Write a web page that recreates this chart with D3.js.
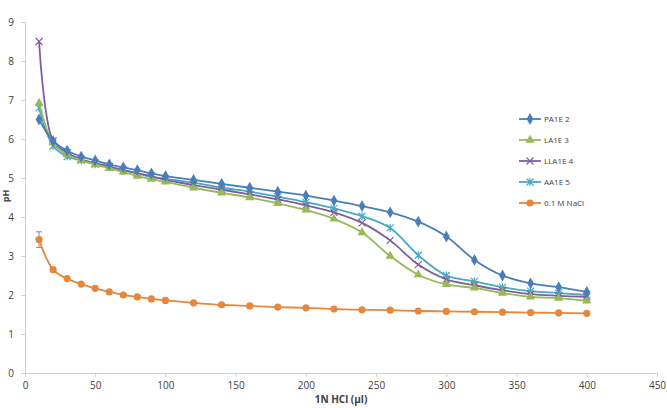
<!DOCTYPE html>
<html>
<head>
<meta charset="utf-8">
<script src="https://cdn.jsdelivr.net/npm/d3@7"></script>
<style>
  body { margin: 0; background: #fff; }
  svg text { font-family: "Open Sans", "Liberation Sans", sans-serif; fill: #404040; }
</style>
</head>
<body>
<script>
// x values (µl of 1N HCl)
var hclVol = [10, 20, 30, 40, 50, 60, 70, 80, 90, 100, 120, 140, 160, 180, 200, 220, 240, 260, 280, 300, 320, 340, 360, 380, 400];

// pH readings per sample
var pa1e2 = [6.5, 5.95, 5.7, 5.55, 5.45, 5.35, 5.27, 5.2, 5.12, 5.05, 4.95, 4.85, 4.75, 4.65, 4.55, 4.42, 4.28, 4.12, 3.88, 3.5, 2.9, 2.5, 2.3, 2.2, 2.08];
var la1e3 = [6.92, 5.9, 5.6, 5.45, 5.35, 5.25, 5.15, 5.05, 4.97, 4.9, 4.75, 4.62, 4.5, 4.35, 4.18, 3.95, 3.6, 3.0, 2.52, 2.27, 2.18, 2.05, 1.95, 1.92, 1.85];
var lla1e4 = [8.5, 5.95, 5.65, 5.48, 5.38, 5.3, 5.2, 5.12, 5.05, 4.95, 4.82, 4.7, 4.58, 4.45, 4.3, 4.12, 3.85, 3.4, 2.78, 2.4, 2.25, 2.12, 2.02, 1.98, 1.95];
var aa1e5 = [6.8, 5.82, 5.55, 5.45, 5.35, 5.28, 5.2, 5.12, 5.02, 4.98, 4.88, 4.75, 4.65, 4.52, 4.38, 4.22, 4.02, 3.72, 3.02, 2.5, 2.35, 2.2, 2.1, 2.05, 2.0];
var nacl = [3.42, 2.65, 2.42, 2.28, 2.17, 2.08, 2.0, 1.95, 1.9, 1.86, 1.8, 1.75, 1.72, 1.69, 1.67, 1.64, 1.62, 1.61, 1.59, 1.58, 1.57, 1.56, 1.55, 1.54, 1.53];
var naclErr = [0.2]; // only the first point shows an error bar

var seriesNames = ["PA1E 2", "LA1E 3", "LLA1E 4", "AA1E 5", "0.1 M NaCl"];
var xTicks = [0, 50, 100, 150, 200, 250, 300, 350, 400, 450];
var yTicks = [0, 1, 2, 3, 4, 5, 6, 7, 8, 9];

(function(){
    var width = 667, height = 408;
    var left = 25, right = 657, top = 22, bottom = 373;

    var svg = d3.select('body').append('svg')
        .attr('width', width)
        .attr('height', height);

    var x = d3.scaleLinear().domain([0, 450]).range([left, right]);
    var y = d3.scaleLinear().domain([0, 9]).range([bottom, top]);

    // axes
    var xAxis = svg.append('g')
        .attr('transform', 'translate(0,' + bottom + ')')
        .call(d3.axisBottom(x).tickValues(xTicks).tickSize(4).tickPadding(5));
    var yAxis = svg.append('g')
        .attr('transform', 'translate(' + left + ',0)')
        .call(d3.axisLeft(y).tickValues(yTicks).tickSize(4).tickPadding(7));
    [xAxis, yAxis].forEach(function(a){
        a.selectAll('path, line').attr('stroke', '#d0d0d0');
        a.selectAll('text').style('font-size', '10px').attr('fill', '#404040');
    });

    // axis titles
    svg.append('text')
        .attr('x', (left + right) / 2)
        .attr('y', 403)
        .attr('text-anchor', 'middle')
        .style('font-size', '10px')
        .style('font-weight', 'bold')
        .text('1N HCl (µl)');
    svg.append('text')
        .attr('transform', 'translate(9,196) rotate(-90)')
        .attr('text-anchor', 'middle')
        .style('font-size', '9px')
        .style('font-weight', 'bold')
        .text('pH');

    var series = [
        { name: seriesNames[0], vals: pa1e2, color: '#4a7ebb', marker: 'diamond' },
        { name: seriesNames[1], vals: la1e3, color: '#98b954', marker: 'triangle' },
        { name: seriesNames[2], vals: lla1e4, color: '#7d5fa0', marker: 'cross' },
        { name: seriesNames[3], vals: aa1e5, color: '#46aac4', marker: 'star' },
        { name: seriesNames[4], vals: nacl, color: '#e5873c', marker: 'circle' }
    ];

    var line = d3.line()
        .x(function(d){ return x(d[0]); })
        .y(function(d){ return y(d[1]); })
        .curve(d3.curveCatmullRom.alpha(0.5));

    // draws one marker at (cx, cy)
    function drawMarker(g, type, cx, cy, color) {
        if (type === 'diamond') {
            g.append('path').attr('d', d3.symbol(d3.symbolDiamond, 40)())
                .attr('transform', 'translate(' + cx + ',' + cy + ')').attr('fill', color);
        } else if (type === 'triangle') {
            g.append('path').attr('d', d3.symbol(d3.symbolTriangle, 36)())
                .attr('transform', 'translate(' + cx + ',' + cy + ')').attr('fill', color);
        } else if (type === 'circle') {
            g.append('circle').attr('cx', cx).attr('cy', cy).attr('r', 3.6).attr('fill', color);
        } else {
            var s = 3.5;
            var d = 'M' + (cx - s) + ',' + (cy - s) + 'L' + (cx + s) + ',' + (cy + s) +
                    'M' + (cx - s) + ',' + (cy + s) + 'L' + (cx + s) + ',' + (cy - s);
            if (type === 'star') d += 'M' + cx + ',' + (cy - s - 0.5) + 'L' + cx + ',' + (cy + s + 0.5);
            g.append('path').attr('d', d).attr('stroke', color).attr('stroke-width', 1.2).attr('fill', 'none');
        }
    }

    // error bar on first NaCl point
    var eb = svg.append('g').attr('stroke', '#8c8c8c').attr('stroke-width', 1);
    var ex = x(hclVol[0]);
    eb.append('line').attr('x1', ex).attr('x2', ex).attr('y1', y(nacl[0] - naclErr[0])).attr('y2', y(nacl[0] + naclErr[0]));
    eb.append('line').attr('x1', ex - 3).attr('x2', ex + 3).attr('y1', y(nacl[0] + naclErr[0])).attr('y2', y(nacl[0] + naclErr[0]));
    eb.append('line').attr('x1', ex - 3).attr('x2', ex + 3).attr('y1', y(nacl[0] - naclErr[0])).attr('y2', y(nacl[0] - naclErr[0]));

    // series, drawn back to front
    series.slice().reverse().forEach(function(s){
        var pts = hclVol.map(function(v, i){ return [v, s.vals[i]]; });
        var g = svg.append('g');
        g.append('path').datum(pts)
            .attr('d', line)
            .attr('fill', 'none')
            .attr('stroke', s.color)
            .attr('stroke-width', 1.8);
        pts.forEach(function(p){ drawMarker(g, s.marker, x(p[0]), y(p[1]), s.color); });
    });

    // legend
    var legend = svg.append('g');
    series.forEach(function(s, i){
        var ly = 119 + i * 21;
        legend.append('line').attr('x1', 519).attr('x2', 541).attr('y1', ly).attr('y2', ly)
            .attr('stroke', s.color).attr('stroke-width', 1.8);
        drawMarker(legend, s.marker, 530, ly, s.color);
        legend.append('text').attr('x', 544).attr('y', ly + 3)
            .style('font-size', '8px')
            .text(s.name);
    });
})();
</script>
</body>
</html>
